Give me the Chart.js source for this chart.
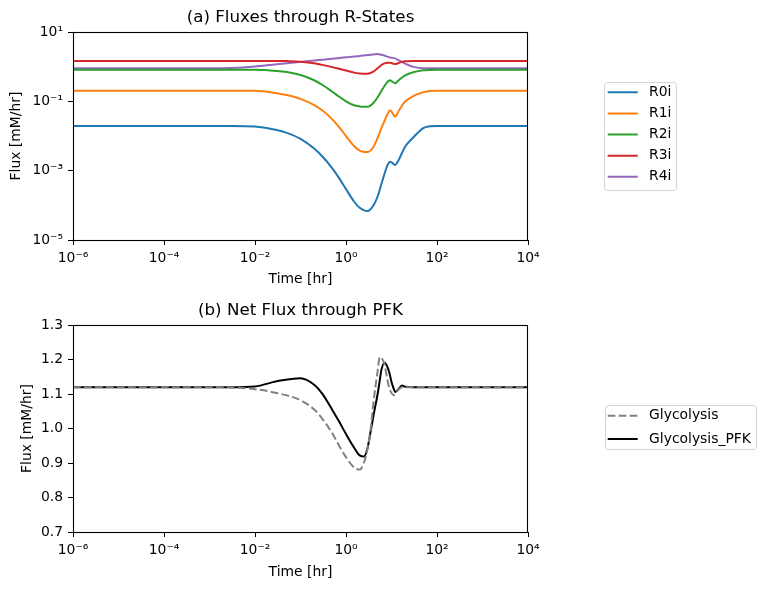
<!DOCTYPE html>
<html><head><meta charset="utf-8">
<script src="https://cdn.jsdelivr.net/npm/chart.js@4/dist/chart.umd.min.js"></script>
<style>
html,body{margin:0;padding:0;background:#fff;}
#wrap{position:relative;width:765px;height:590px;background:#fff;}
canvas{position:absolute;left:0;}
</style>
</head><body>
<div id="wrap">
<canvas id="c1" width="765" height="295" style="top:0px"></canvas>
<canvas id="c2" width="765" height="295" style="top:295px"></canvas>
</div>
<script>
// ---------- data ----------
const timeA = [1e-6, 1e-3, 3e-3, 0.01, 0.03, 0.05, 0.1, 0.2, 0.3, 0.5, 0.7, 1, 1.5, 2, 2.5, 3, 4, 5, 6, 7, 8, 9.25, 10, 12, 14, 17, 20, 30, 50, 70, 100, 1e4];
const R0i = [0.0195, 0.0195, 0.0195, 0.0188, 0.0150, 0.0123, 0.00826, 0.00436, 0.0026, 0.00117, 0.00062, 0.000294, 0.000129, 0.0000849, 0.0000714, 0.0000682, 0.0000991, 0.000186, 0.000413, 0.000802, 0.00136, 0.00182, 0.00175, 0.00146, 0.0019, 0.00324, 0.00498, 0.00906, 0.017, 0.019, 0.0195, 0.0195];
const R1i = [0.203, 0.203, 0.203, 0.202, 0.172, 0.152, 0.118, 0.0783, 0.0552, 0.0303, 0.0183, 0.01, 0.00515, 0.00379, 0.00348, 0.00346, 0.00482, 0.00906, 0.017, 0.0271, 0.0404, 0.0544, 0.0509, 0.0365, 0.0493, 0.0759, 0.0989, 0.1426, 0.1836, 0.2, 0.203, 0.203];
const R2i = [0.818, 0.818, 0.818, 0.815, 0.755, 0.701, 0.575, 0.407, 0.302, 0.19, 0.138, 0.1, 0.0769, 0.0715, 0.07, 0.0698, 0.0895, 0.133, 0.2, 0.277, 0.354, 0.405, 0.386, 0.333, 0.396, 0.488, 0.563, 0.689, 0.786, 0.807, 0.818, 0.818];
const R3i = [1.46, 1.46, 1.46, 1.46, 1.46, 1.45, 1.40, 1.26, 1.13, 0.972, 0.874, 0.776, 0.675, 0.64, 0.627, 0.631, 0.721, 0.916, 1.12, 1.25, 1.31, 1.31, 1.28, 1.19, 1.26, 1.38, 1.43, 1.46, 1.46, 1.46, 1.46, 1.46];
const R4i = [0.898, 0.898, 0.915, 1.01, 1.18, 1.25, 1.37, 1.51, 1.59, 1.70, 1.78, 1.87, 1.96, 2.05, 2.11, 2.16, 2.25, 2.32, 2.2, 2.1, 1.95, 1.86, 1.82, 1.74, 1.56, 1.36, 1.22, 0.99, 0.9, 0.898, 0.898, 0.898];

const timeB = [1e-6, 1e-3, 3e-3, 0.01, 0.03, 0.1, 0.2, 0.3, 0.5, 0.7, 1, 1.5, 2, 2.5, 3, 3.5, 4, 5, 5.5, 6, 7, 8, 9, 10, 11, 12, 14, 17, 20, 30, 1e4];
const glycolysis = [1.12, 1.12, 1.119, 1.114, 1.103, 1.082, 1.055, 1.029, 0.986, 0.951, 0.917, 0.887, 0.881, 0.903, 0.944, 1.0, 1.074, 1.17, 1.207, 1.205, 1.187, 1.146, 1.116, 1.103, 1.097, 1.10, 1.112, 1.12, 1.12, 1.12, 1.12];
const glycolysisPFK = [1.12, 1.12, 1.12, 1.122, 1.137, 1.146, 1.127, 1.101, 1.054, 1.021, 0.984, 0.945, 0.922, 0.919, 0.946, 0.993, 1.036, 1.103, 1.138, 1.17, 1.191, 1.181, 1.161, 1.135, 1.118, 1.106, 1.113, 1.125, 1.121, 1.12, 1.12];

const xTicks = [1e-6, 1e-4, 1e-2, 1, 1e2, 1e4];
const xTickLabels = ['10\u207B\u2076', '10\u207B\u2074', '10\u207B\u00B2', '10\u2070', '10\u00B2', '10\u2074'];
const yTicksA = [1e-5, 1e-3, 1e-1, 10];
const yTickLabelsA = ['10\u207B\u2075', '10\u207B\u00B3', '10\u207B\u00B9', '10\u00B9'];
const yTicksB = [0.7, 0.8, 0.9, 1.0, 1.1, 1.2, 1.3];

// ---------- helpers ----------
Chart.defaults.font.family = "'DejaVu Sans', sans-serif";
Chart.defaults.color = '#000';
const FS = 13.9;
const pts = (ts, vs) => ts.map((t, i) => ({x: t, y: vs[i]}));

const framePlugin = {
  id: 'frameBox',
  afterLayout(chart, args, o) {
    const lg = chart.legend;
    if (lg && o.legend) {
      lg.left = o.legend.x; lg.top = o.legend.y;
      lg.right = chart.width; lg.bottom = chart.height;
      lg.width = lg.right - lg.left; lg.height = lg.bottom - lg.top;
    }
  },
  afterDraw(chart, args, o) {
    const ctx = chart.ctx, a = chart.chartArea;
    ctx.save();
    ctx.strokeStyle = '#000'; ctx.lineWidth = 1.1;
    ctx.strokeRect(Math.round(a.left) + 0.5, Math.round(a.top) + 0.5, Math.round(a.right - a.left) - 1, Math.round(a.bottom - a.top));
    if (o.frame) {
      const f = o.frame;
      ctx.strokeStyle = '#d2d2d2'; ctx.lineWidth = 1;
      ctx.beginPath();
      ctx.roundRect(f[0] + 0.5, f[1] + 0.5, f[2], f[3], 3);
      ctx.stroke();
    }
    ctx.restore();
  }
};

function baseXScale(h, pb) {
  return {
    type: 'logarithmic', min: 1e-6, max: 1e4,
    afterBuildTicks: s => { s.ticks = xTicks.map(v => ({value: v})); },
    afterFit: s => { s.height = h; },
    ticks: {autoSkip: false, maxRotation: 0, minRotation: 0, padding: 5, font: {size: FS}, color: '#000',
      callback: (v, i) => xTickLabels[i]},
    grid: {drawOnChartArea: false, drawTicks: true, tickLength: 5, color: '#000', lineWidth: 1},
    border: {display: false},
    title: {display: true, text: 'Time [hr]', font: {size: FS}, color: '#000', padding: {top: 0, bottom: pb}}
  };
}

function legendOpts(pad) {
  return {
    display: true, position: 'chartArea', align: 'start',
    labels: {
      usePointStyle: true, pointStyle: 'line', pointStyleWidth: 30,
      font: {size: FS}, color: '#000', padding: pad,
      generateLabels: (chart) => Chart.defaults.plugins.legend.labels.generateLabels(chart).map(l => {
        const ds = chart.data.datasets[l.datasetIndex];
        return Object.assign(l, {text: ' ' + l.text, lineDash: ds.borderDash || [], lineWidth: ds.borderWidth, strokeStyle: ds.borderColor, fillStyle: ds.borderColor});
      })
    }
  };
}

const lineDs = (label, ts, vs, color, extra) => Object.assign({
  label, data: pts(ts, vs), borderColor: color, backgroundColor: color,
  borderWidth: 2, pointRadius: 0, fill: false, cubicInterpolationMode: 'monotone'
}, extra || {});

function titleOpts(text, pt) {
  return {display: true, fullSize: false, text, color: '#000', font: {size: 16.7, weight: 'normal'}, padding: {top: pt, bottom: 4}};
}

// ---------- chart (a) ----------
new Chart(document.getElementById('c1'), {
  type: 'line',
  data: {datasets: [
    lineDs('R0i', timeA, R0i, '#1f77b4'),
    lineDs('R1i', timeA, R1i, '#ff7f0e'),
    lineDs('R2i', timeA, R2i, '#2ca02c'),
    lineDs('R3i', timeA, R3i, '#d62728'),
    lineDs('R4i', timeA, R4i, '#9467bd')
  ]},
  options: {
    responsive: false, animation: false, devicePixelRatio: 1,
    layout: {padding: {left: 0, right: 237, top: 0, bottom: 0}},
    scales: {
      x: baseXScale(55, 7.7),
      y: {
        type: 'logarithmic', min: 1e-5, max: 10,
        afterBuildTicks: s => { s.ticks = yTicksA.map(v => ({value: v})); },
        afterFit: s => { s.width = 73; },
        ticks: {autoSkip: false, padding: 5, font: {size: FS}, color: '#000', callback: (v, i) => yTickLabelsA[i]},
        grid: {drawOnChartArea: false, drawTicks: true, tickLength: 5, color: '#000', lineWidth: 1},
        border: {display: false},
        title: {display: true, text: 'Flux [mM/hr]', font: {size: FS}, color: '#000', padding: {top: 7.7, bottom: 0}}
      }
    },
    plugins: {
      title: titleOpts('(a) Fluxes through R-States', 8),
      legend: legendOpts(7.2),
      tooltip: {enabled: false},
      frameBox: {legend: {x: 600.5, y: 78.2}, frame: [604, 82, 72, 108]}
    }
  },
  plugins: [framePlugin]
});

// ---------- chart (b) ----------
new Chart(document.getElementById('c2'), {
  type: 'line',
  data: {datasets: [
    lineDs('Glycolysis', timeB, glycolysis, '#808080', {borderDash: [7.7, 3.3]}),
    lineDs('Glycolysis_PFK', timeB, glycolysisPFK, '#000000')
  ]},
  options: {
    responsive: false, animation: false, devicePixelRatio: 1,
    layout: {padding: {left: 0, right: 237, top: 0, bottom: 0}},
    scales: {
      x: baseXScale(58, 9.7),
      y: {
        type: 'linear', min: 0.7, max: 1.3,
        afterBuildTicks: s => { s.ticks = yTicksB.map(v => ({value: v})); },
        afterFit: s => { s.width = 73; },
        ticks: {autoSkip: false, padding: 5, font: {size: FS}, color: '#000', callback: (v, i) => yTicksB[i].toFixed(1)},
        grid: {drawOnChartArea: false, drawTicks: true, tickLength: 5, color: '#000', lineWidth: 1},
        border: {display: false},
        title: {display: true, text: 'Flux [mM/hr]', font: {size: FS}, color: '#000', padding: {top: 18.7, bottom: 0}}
      }
    },
    plugins: {
      title: titleOpts('(b) Net Flux through PFK', 6),
      legend: legendOpts(9.4),
      tooltip: {enabled: false},
      frameBox: {legend: {x: 598.3, y: 104.3}, frame: [605, 110, 151, 44]}
    }
  },
  plugins: [framePlugin]
});
</script>
</body></html>
